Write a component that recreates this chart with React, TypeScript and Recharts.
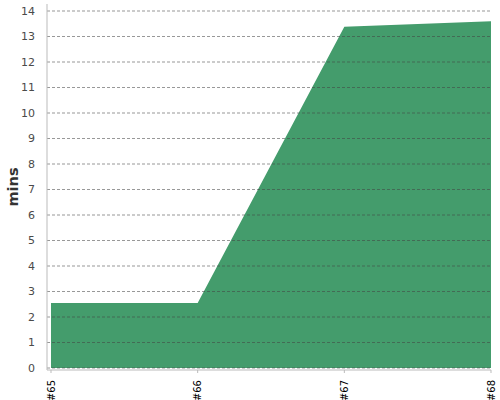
import { AreaChart, Area, XAxis, YAxis, ReferenceLine } from 'recharts'

const BUILDS = ['#65', '#66', '#67', '#68']
const MINS = [2.55, 2.55, 13.38, 13.6]
const Y_TICKS = [0, 1, 2, 3, 4, 5, 6, 7, 8, 9, 10, 11, 12, 13, 14]

const data = BUILDS.map((b, i) => ({ build: b, mins: MINS[i] }))

const FONT = 'DejaVu Sans, sans-serif'

function XTick(props: any) {
  const { x, y, payload } = props
  return (
    <text
      x={x}
      y={y + 5}
      transform={`rotate(-90 ${x} ${y + 5})`}
      textAnchor="end"
      dominantBaseline="central"
      fontSize={10}
      fontFamily={FONT}
      fill="#000"
    >
      {payload.value}
    </text>
  )
}

export default function App() {
  return (
    <div style={{ position: 'absolute', left: 0, top: 0, background: '#fff' }}>
      <AreaChart width={500} height={400} data={data} margin={{ top: 4, right: 9, bottom: 0, left: 0 }}>
        <XAxis
          dataKey="build"
          height={30}
          padding={{ left: 4, right: 0 }}
          stroke="#bbb"
          tickSize={3}
          tick={<XTick />}
          interval={0}
        />
        <YAxis
          width={47}
          domain={[0, 14]}
          ticks={Y_TICKS}
          interval={0}
          padding={{ top: 7, bottom: 2 }}
          stroke="#bbb"
          tickLine={false}
          tick={{ fontSize: 11, fill: '#4a4a4a', fontFamily: FONT }}
          tickMargin={6}
          label={{
            value: 'mins',
            angle: -90,
            position: 'insideLeft',
            offset: 13,
            style: { fontSize: 14.5, fontWeight: 600, fill: '#333', fontFamily: FONT, textAnchor: 'middle' },
          }}
        />
        <Area
          type="linear"
          dataKey="mins"
          stroke="none"
          fill="#449c6c"
          fillOpacity={1}
          isAnimationActive={false}
        />
        {Y_TICKS.map((t) => (
          <ReferenceLine key={t} y={t} stroke="#444" strokeOpacity={0.55} strokeDasharray="3 2" />
        ))}
      </AreaChart>
    </div>
  )
}
